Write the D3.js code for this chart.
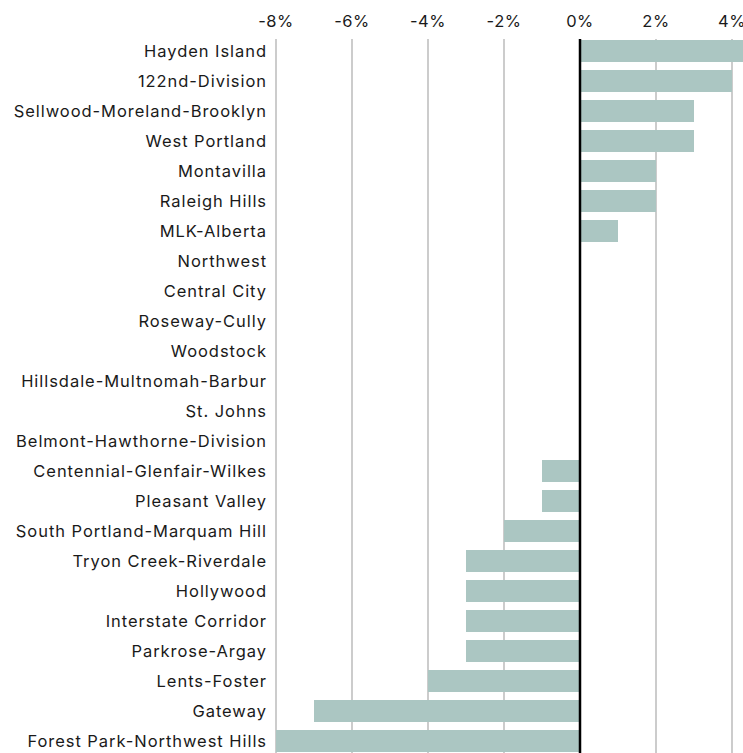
<!DOCTYPE html>
<html>
<head>
<meta charset="utf-8">
<script src="https://cdn.jsdelivr.net/npm/d3@7"></script>
<style>
  html, body { margin: 0; padding: 0; background: #fff; }
  svg { display: block; }
  text { font-family: Inter, "Liberation Sans", Arial, sans-serif; fill: #1a1a1a; }
</style>
</head>
<body>
<div id="chart"></div>
<script>
const categories = [
  "Hayden Island", "122nd-Division", "Sellwood-Moreland-Brooklyn", "West Portland",
  "Montavilla", "Raleigh Hills", "MLK-Alberta", "Northwest", "Central City",
  "Roseway-Cully", "Woodstock", "Hillsdale-Multnomah-Barbur", "St. Johns",
  "Belmont-Hawthorne-Division", "Centennial-Glenfair-Wilkes", "Pleasant Valley",
  "South Portland-Marquam Hill", "Tryon Creek-Riverdale", "Hollywood",
  "Interstate Corridor", "Parkrose-Argay", "Lents-Foster", "Gateway",
  "Forest Park-Northwest Hills"
];
const values = [5, 4, 3, 3, 2, 2, 1, 0, 0, 0, 0, 0, 0, 0, -1, -1, -2, -3, -3, -3, -3, -4, -7, -8];
const tickValues = [-8, -6, -4, -2, 0, 2, 4];

const W = 743, H = 753;
const svg = d3.select("#chart").append("svg").attr("width", W).attr("height", H);

const x = d3.scaleLinear().domain([-8, 4]).range([276, 732]);
const y = d3.scaleBand().domain(categories).range([36, 756])
  .paddingInner(8 / 30).paddingOuter(4 / 30);

// gridlines
svg.append("g").selectAll("line").data(tickValues.filter(d => d !== 0)).join("line")
  .attr("x1", d => x(d)).attr("x2", d => x(d))
  .attr("y1", 39).attr("y2", H)
  .attr("stroke", "#cccccc").attr("stroke-width", 2);

// tick labels
svg.append("g").selectAll("text").data(tickValues).join("text")
  .attr("x", d => x(d)).attr("y", 27)
  .attr("text-anchor", "middle")
  .style("font-size", "16.5px")
  .style("letter-spacing", "0.5px")
  .text(d => d + "%");

// bars
svg.append("g").selectAll("rect").data(categories).join("rect")
  .attr("x", (d, i) => x(Math.min(0, values[i])))
  .attr("width", (d, i) => Math.abs(x(values[i]) - x(0)))
  .attr("y", d => y(d))
  .attr("height", y.bandwidth())
  .attr("fill", "#abc6c2");

// zero line
svg.append("line")
  .attr("x1", x(0)).attr("x2", x(0))
  .attr("y1", 39).attr("y2", H)
  .attr("stroke", "#000").attr("stroke-width", 2.5);

// category labels
svg.append("g").selectAll("text").data(categories).join("text")
  .attr("x", 267)
  .attr("y", d => y(d) + y.bandwidth() / 2)
  .attr("dy", "0.36em")
  .attr("text-anchor", "end")
  .style("font-size", "16.5px")
  .style("letter-spacing", "0.95px")
  .text(d => d);
</script>
</body>
</html>
